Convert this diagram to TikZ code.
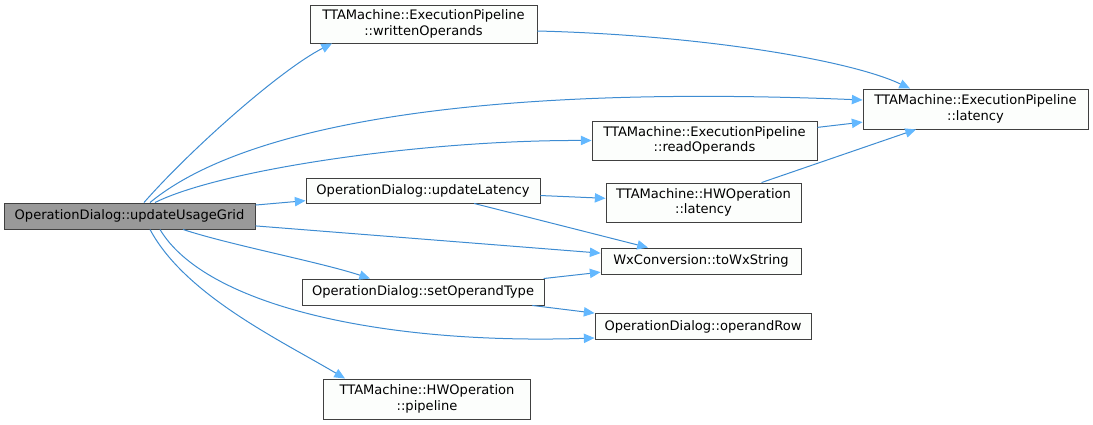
\documentclass[tikz,border=0pt]{standalone}
\usepackage{fontspec}
\setmainfont{DejaVu Sans}
\usetikzlibrary{arrows.meta}
\definecolor{edgec}{RGB}{62,140,210}
\definecolor{headc}{RGB}{99,184,255}
\definecolor{boxline}{RGB}{64,64,64}
\definecolor{boxfill}{RGB}{252,254,252}
\definecolor{mainfill}{RGB}{153,153,153}
\begin{document}
\begin{tikzpicture}[x=0.75pt,y=-0.75pt,
  box/.style={draw=boxline,fill=boxfill,line width=0.7pt,inner sep=0pt,align=center,
    font=\fontsize{9.8pt}{11.5pt}\selectfont},
  mainbox/.style={box,fill=mainfill},
  edge/.style={draw=edgec,line width=0.75pt,
    -{Triangle[length=8pt,width=7pt,fill=headc,color=headc]}}]
\useasboundingbox (0,0) rectangle (1093,425);
\node[mainbox,minimum width={251*0.75pt},minimum height={26*0.75pt}] (main) at (129.5,216) {OperationDialog::updateUsageGrid};
\node[box,minimum width={227*0.75pt},minimum height={38*0.75pt}] (wo) at (423.5,24) {TTAMachine::ExecutionPipeline\\::writtenOperands};
\node[box,minimum width={225*0.75pt},minimum height={40*0.75pt}] (epl) at (975.5,109) {TTAMachine::ExecutionPipeline\\::latency};
\node[box,minimum width={225*0.75pt},minimum height={39*0.75pt}] (ro) at (704.5,140.5) {TTAMachine::ExecutionPipeline\\::readOperands};
\node[box,minimum width={234*0.75pt},minimum height={25*0.75pt}] (ul) at (423,190.5) {OperationDialog::updateLatency};
\node[box,minimum width={195*0.75pt},minimum height={39*0.75pt}] (hwl) at (703.5,202.5) {TTAMachine::HWOperation\\::latency};
\node[box,minimum width={200*0.75pt},minimum height={26*0.75pt}] (wx) at (701,261) {WxConversion::toWxString};
\node[box,minimum width={242*0.75pt},minimum height={26*0.75pt}] (sot) at (423,292) {OperationDialog::setOperandType};
\node[box,minimum width={216*0.75pt},minimum height={26*0.75pt}] (orow) at (703,326.5) {OperationDialog::operandRow};
\node[box,minimum width={207*0.75pt},minimum height={40*0.75pt}] (pip) at (427,399) {TTAMachine::HWOperation\\::pipeline};

\draw[edge] (main.north -| 144,0) .. controls (190,150) and (280,70) .. (wo.south west -| 332,0);
\draw[edge] (main.north -| 150,0) .. controls (250,120) and (500,85) .. (epl.west |- 0,100);
\draw[edge] (main.north -| 155,0) .. controls (220,170) and (420,140) .. (ro.west);
\draw[edge] (main) -- (ul);
\draw[edge] (main) -- (wx);
\draw[edge] (main.south -| 183,0) .. controls (230,245) and (320,262) .. (sot.north -| 370,0);
\draw[edge] (main.south -| 160,0) .. controls (205,305) and (380,345) .. (orow.west |- 0,338);
\draw[edge] (main.south -| 150,0) .. controls (185,295) and (280,340) .. (pip.north -| 345,0);
\draw[edge] (wo.east |- 0,31) .. controls (700,35) and (850,60) .. (epl.north -| 910,0);
\draw[edge] (ro) -- (epl);
\draw[edge] (hwl) -- (epl);
\draw[edge] (ul) -- (hwl);
\draw[edge] (ul) -- (wx);
\draw[edge] (sot) -- (wx);
\draw[edge] (sot) -- (orow);
\end{tikzpicture}
\end{document}
